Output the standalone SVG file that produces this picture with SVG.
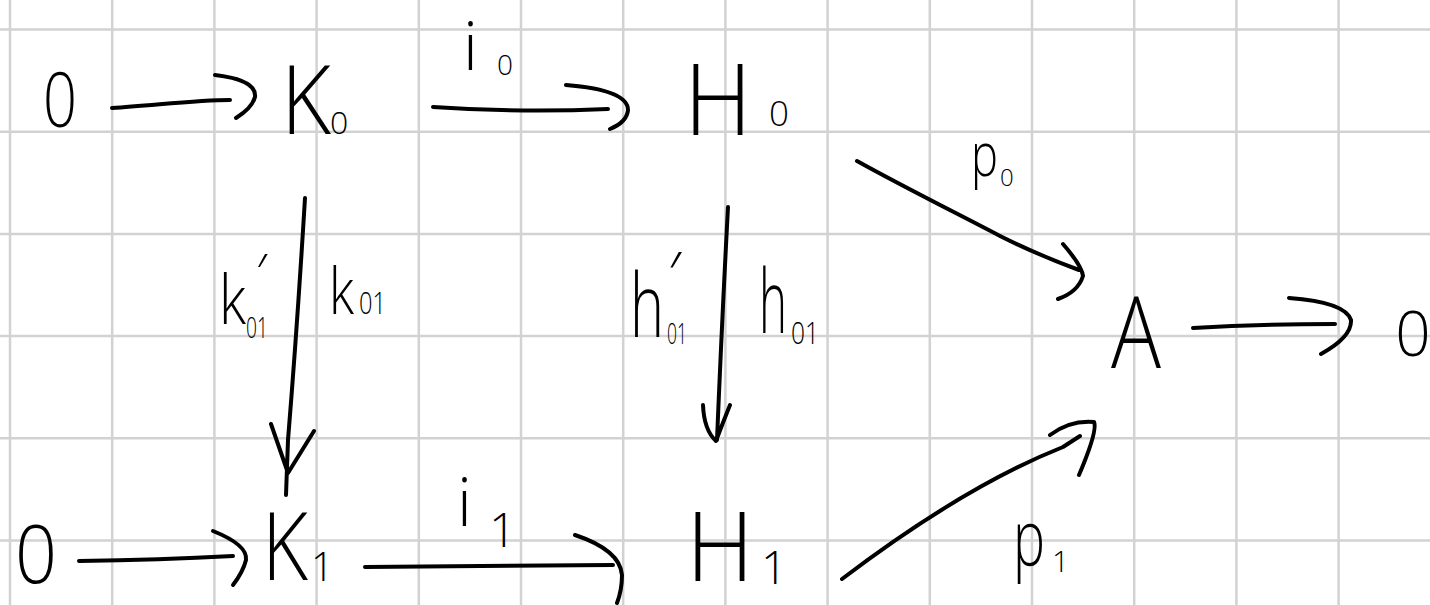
<svg xmlns="http://www.w3.org/2000/svg" width="1430" height="605" viewBox="0 0 1430 605">
<style>
.grid line{stroke:#d2d2d2;stroke-width:2.5}
.ink{fill:none;stroke:#000;stroke-width:4;stroke-linecap:round;stroke-linejoin:round}
text{font-family:"Open Sans","Liberation Sans",sans-serif;font-weight:300;fill:#000}
</style>
<rect width="1430" height="605" fill="#fff"/>
<g class="grid">
<line x1="10" y1="0" x2="10" y2="605"/><line x1="112.2" y1="0" x2="112.2" y2="605"/><line x1="214.4" y1="0" x2="214.4" y2="605"/><line x1="316.6" y1="0" x2="316.6" y2="605"/><line x1="418.8" y1="0" x2="418.8" y2="605"/><line x1="521" y1="0" x2="521" y2="605"/><line x1="623.2" y1="0" x2="623.2" y2="605"/><line x1="725.4" y1="0" x2="725.4" y2="605"/><line x1="827.6" y1="0" x2="827.6" y2="605"/><line x1="929.8" y1="0" x2="929.8" y2="605"/><line x1="1032" y1="0" x2="1032" y2="605"/><line x1="1134.2" y1="0" x2="1134.2" y2="605"/><line x1="1236.4" y1="0" x2="1236.4" y2="605"/><line x1="1338.6" y1="0" x2="1338.6" y2="605"/>
<line x1="0" y1="29.5" x2="1430" y2="29.5"/><line x1="0" y1="131.7" x2="1430" y2="131.7"/><line x1="0" y1="233.9" x2="1430" y2="233.9"/><line x1="0" y1="336.1" x2="1430" y2="336.1"/><line x1="0" y1="438.3" x2="1430" y2="438.3"/><line x1="0" y1="540.5" x2="1430" y2="540.5"/>
</g>
<g id="connectors" class="ink">
<path d="M112,108 C150,106 195,100 230,100 M215,75 Q257,80 255,97 Q252,108 236,118"/>
<path d="M433,107 Q520,113 608,109 M566,85 Q628,90 628,110 Q627,122 610,129"/>
<path d="M857,161 C900,185 960,215 1000,236 C1030,251 1060,263 1079,270 M1063,244 Q1082,266 1083,276 Q1078,292 1058,299"/>
<path d="M1193,328 Q1260,324 1335,324 M1289,298 Q1345,302 1351,320 Q1352,337 1321,354"/>
<path d="M305,198 Q297,330 288,440 L286,495 M271,424 L288,473 L314,431"/>
<path d="M728,207 Q722,320 717,440 M703,405 Q704,430 716,441 Q722,425 730,405"/>
<path d="M79,561 Q160,560 233,556 M213,531 Q248,545 246,560 Q243,572 233,585"/>
<path d="M365,567 L613,565 M575,535 Q620,550 622,575 Q622,590 617,603"/>
<path d="M842,579 C900,535 980,480 1063,447 L1080,436 M1050,435 Q1070,420 1094,422 Q1098,430 1079,475"/>
</g>
<g id="labels">
<g id="lbl-i0"><text x="463" y="70" font-size="66">i</text><text x="497" y="75" font-size="28">0</text></g>
<g id="lbl-i1"><text x="457" y="526" font-size="66">i</text><text x="489" y="547" font-size="48">1</text></g>
<g id="lbl-p0"><text x="971" y="176" font-size="60" textLength="27" lengthAdjust="spacingAndGlyphs">p</text><text x="1000" y="186" font-size="24">0</text></g>
<g id="lbl-p1"><text x="1013" y="566" font-size="78" textLength="32" lengthAdjust="spacingAndGlyphs">p</text><text x="1052" y="572" font-size="30">1</text></g>
<g id="lbl-k01p"><text x="219" y="324" font-size="68" textLength="27" lengthAdjust="spacingAndGlyphs">k</text><text x="256" y="291" font-size="52">′</text><text x="246" y="338" font-size="30" textLength="22" lengthAdjust="spacingAndGlyphs">01</text></g>
<g id="lbl-k01"><text x="329" y="314" font-size="64" textLength="25" lengthAdjust="spacingAndGlyphs">k</text><text x="359" y="314" font-size="31" textLength="27" lengthAdjust="spacingAndGlyphs">01</text></g>
<g id="lbl-h01p"><text x="630" y="337" font-size="88" textLength="34" lengthAdjust="spacingAndGlyphs">h</text><text x="668" y="297" font-size="62">′</text><text x="667" y="344" font-size="30" textLength="20" lengthAdjust="spacingAndGlyphs">01</text></g>
<g id="lbl-h01"><text x="759" y="333" font-size="88" textLength="28" lengthAdjust="spacingAndGlyphs">h</text><text x="791" y="344" font-size="31" textLength="28" lengthAdjust="spacingAndGlyphs">01</text></g>
</g>
<g id="n-zero-top"><text x="60" y="127" font-size="75" text-anchor="middle" textLength="34" lengthAdjust="spacingAndGlyphs">0</text></g>
<g id="n-K0"><text x="281" y="134" font-size="95" textLength="50" lengthAdjust="spacingAndGlyphs">K</text><text x="330" y="134" font-size="32">0</text></g>
<g id="n-H0"><text x="684" y="135" font-size="100" textLength="68" lengthAdjust="spacingAndGlyphs">H</text><text x="769" y="126" font-size="35">0</text></g>
<g id="n-A"><text x="1111" y="368" font-size="100" textLength="50" lengthAdjust="spacingAndGlyphs">A</text></g>
<g id="n-zero-right"><text x="1413" y="356" font-size="62" text-anchor="middle">0</text></g>
<g id="n-zero-bl"><text x="36" y="583" font-size="82" text-anchor="middle" textLength="42" lengthAdjust="spacingAndGlyphs">0</text></g>
<g id="n-K1"><text x="262" y="580" font-size="94" textLength="46" lengthAdjust="spacingAndGlyphs">K</text><text x="311" y="581" font-size="40">1</text></g>
<g id="n-H1"><text x="686" y="581" font-size="96" textLength="68" lengthAdjust="spacingAndGlyphs">H</text><text x="761" y="584" font-size="46">1</text></g>
</svg>
